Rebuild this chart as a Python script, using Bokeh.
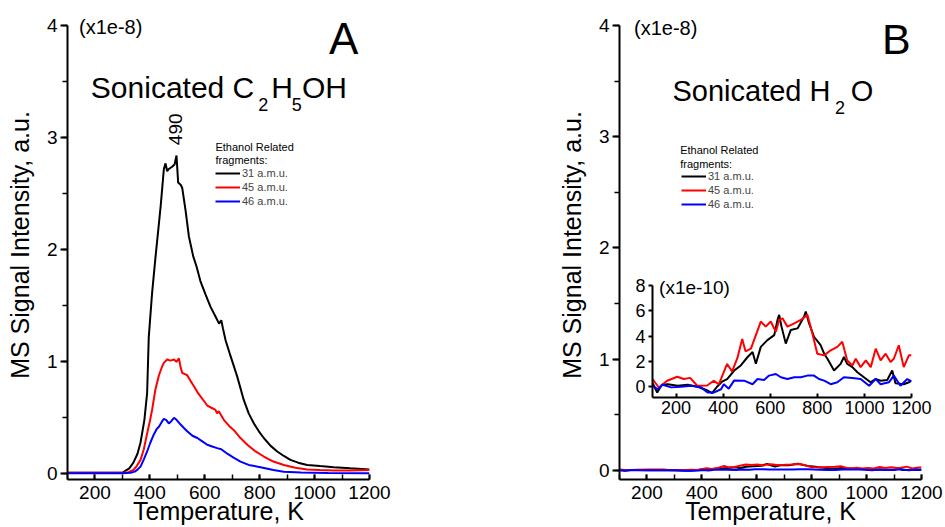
import math
import numpy as np
from bokeh.plotting import figure
from bokeh.layouts import row, column
from bokeh.models import Range1d, SingleIntervalTicker, Label, Legend, LegendItem
from bokeh.embed import file_html
from bokeh.resources import INLINE

# ---------------- data (panel A, units of 1e-8) ----------------
series_labels = ["31 a.m.u.", "45 a.m.u.", "46 a.m.u."]
series_colors = ["#000000", "#ff0000", "#0000ff"]

temp_a31 = [100, 200, 300, 312, 325, 340, 355, 366, 380, 390, 396, 408, 420, 439, 451, 457,
            463, 469, 481, 490, 497, 503, 512, 518, 530, 542, 558, 570, 584, 603, 621, 640,
            652, 660, 666, 676, 694, 718, 742, 760, 779, 797, 815, 840, 864, 888, 912, 940,
            973, 1020, 1070, 1130, 1200]
sig_a31 = [0.01, 0.01, 0.01, 0.03, 0.05, 0.10, 0.18, 0.28, 0.48, 0.72, 1.22, 1.61, 1.92, 2.38,
           2.72, 2.77, 2.70, 2.72, 2.74, 2.76, 2.84, 2.60, 2.58, 2.55, 2.35, 2.12, 1.94, 1.85,
           1.72, 1.60, 1.49, 1.40, 1.34, 1.37, 1.30, 1.19, 1.05, 0.87, 0.66, 0.54, 0.45, 0.38,
           0.32, 0.25, 0.20, 0.16, 0.125, 0.10, 0.08, 0.07, 0.06, 0.05, 0.04]

temp_a45 = [100, 200, 300, 322, 340, 352, 366, 378, 390, 400, 408, 420, 433, 445, 451, 463,
            475, 488, 497, 506, 512, 518, 528, 536, 548, 561, 573, 585, 597, 609, 624, 639,
            645, 651, 660, 670, 688, 706, 730, 755, 785, 815, 850, 888, 930, 973, 1020, 1070,
            1130, 1200]
sig_a45 = [0.01, 0.01, 0.01, 0.015, 0.035, 0.07, 0.125, 0.22, 0.36, 0.47, 0.57, 0.75, 0.88,
           0.96, 0.99, 1.02, 1.01, 1.02, 1.00, 1.03, 0.95, 0.90, 0.89, 0.88, 0.83, 0.78, 0.73,
           0.69, 0.65, 0.61, 0.59, 0.57, 0.54, 0.56, 0.52, 0.48, 0.43, 0.39, 0.32, 0.26, 0.20,
           0.155, 0.11, 0.08, 0.055, 0.04, 0.035, 0.03, 0.03, 0.035]

temp_a46 = [100, 200, 300, 330, 345, 356, 366, 378, 390, 402, 414, 425, 433, 445, 451, 460,
            469, 478, 488, 498, 512, 524, 536, 555, 573, 591, 609, 627, 645, 660, 682, 705,
            730, 760, 803, 850, 888, 950, 1050, 1200]
sig_a46 = [0.005, 0.005, 0.005, 0.01, 0.02, 0.04, 0.065, 0.13, 0.2, 0.28, 0.35, 0.40, 0.42,
           0.47, 0.49, 0.48, 0.45, 0.47, 0.50, 0.48, 0.44, 0.41, 0.38, 0.34, 0.32, 0.29, 0.26,
           0.245, 0.23, 0.22, 0.18, 0.145, 0.11, 0.08, 0.06, 0.035, 0.02, 0.012, 0.008, 0.006]

# ---------------- data (panel B, inset units of 1e-10) ----------------
temp_b31 = [100, 120, 140, 165, 207, 249, 292, 334, 353, 374, 395, 417, 447, 475, 504, 525,
            539, 560, 588, 617, 631, 638, 648, 666, 687, 716, 744, 751, 765, 786, 814, 829,
            843, 871, 899, 913, 927, 949, 970, 998, 1026, 1047, 1069, 1097, 1118, 1132, 1167,
            1189, 1200]
sig_b31 = [0.3, -0.45, 0.15, 0.2, 0.08, 0.16, 0.0, -0.3, -0.5, 0.0, 0.4, 0.6, 1.28, 1.68, 2.35,
           2.75, 1.81, 3.15, 3.68, 4.08, 5.28, 5.68, 4.75, 3.41, 4.48, 4.61, 5.55, 5.95, 5.0,
           3.95, 3.28, 2.61, 2.21, 1.28, 1.81, 2.35, 1.81, 1.55, 1.15, 0.75, 0.35, 0.61, 0.48,
           0.53, 1.28, 0.27, 0.2, 0.35, 0.48]

temp_b45 = [100, 127, 162, 205, 233, 260, 290, 332, 360, 382, 417, 438, 461, 481, 495, 518,
            539, 560, 581, 602, 624, 638, 652, 673, 702, 730, 758, 779, 800, 829, 857, 885,
            906, 927, 949, 963, 984, 1006, 1027, 1048, 1069, 1090, 1111, 1125, 1146, 1167,
            1189, 1200]
sig_b45 = [0.61, -0.06, 0.47, 0.79, 0.61, 0.7, 0.08, 0.1, 0.47, 0.2, 1.8, 1.2, 2.3, 3.78, 2.8,
           3.01, 4.08, 5.15, 4.75, 5.15, 4.35, 5.28, 5.41, 4.75, 5.01, 5.28, 5.68, 4.21, 2.61,
           2.48, 2.88, 3.15, 3.55, 2.08, 1.68, 2.21, 1.55, 2.08, 1.55, 3.01, 2.08, 2.61, 1.95,
           2.21, 3.28, 1.55, 2.48, 2.48]

temp_b46 = [100, 122, 143, 179, 221, 264, 306, 334, 362, 391, 403, 424, 447, 489, 525, 546,
            574, 595, 624, 645, 673, 702, 730, 758, 786, 807, 829, 857, 885, 913, 949, 984,
            1020, 1048, 1069, 1104, 1125, 1153, 1182, 1200]
sig_b46 = [0.1, -0.2, 0.16, -0.05, 0.0, 0.08, -0.05, -0.45, -0.45, -0.2, 0.2, -0.15, 0.5, 0.48,
           0.2, 0.61, 0.53, 0.88, 1.01, 0.75, 0.61, 0.75, 0.75, 0.88, 0.88, 0.61, 0.48, 0.2,
           0.35, 0.75, 0.69, 0.61, 0.08, 0.61, 0.2, 0.35, 0.88, 0.08, 0.61, 0.43]

x_tick_interval = 200
FONT = "Liberation Sans"


def base_fig(width, height, yr, ybounds, mbl, mbr, mbt, mbb, **kw):
    p = figure(width=width, height=height, x_range=Range1d(100, 1200), y_range=Range1d(*yr),
               output_backend="svg", toolbar_location=None,
               min_border_left=mbl, min_border_right=mbr, min_border_top=mbt,
               min_border_bottom=mbb, **kw)
    p.xgrid.visible = False
    p.ygrid.visible = False
    p.outline_line_color = None
    for ax in (p.xaxis[0], p.yaxis[0]):
        ax.axis_line_width = 2
        ax.axis_line_color = "black"
        ax.major_tick_line_width = 2
        ax.minor_tick_line_width = 1.5
        ax.major_tick_line_color = "black"
        ax.minor_tick_line_color = "black"
        ax.major_label_text_font = FONT
        ax.major_label_text_color = "black"
        ax.axis_label_text_font = FONT
        ax.axis_label_text_font_style = "normal"
        ax.axis_label_text_color = "black"
    p.yaxis[0].bounds = ybounds
    return p


def style_main(p):
    xa, ya = p.xaxis[0], p.yaxis[0]
    xa.ticker = SingleIntervalTicker(interval=x_tick_interval, num_minor_ticks=2)
    xa.major_tick_in, xa.major_tick_out = 5, 0
    xa.minor_tick_in, xa.minor_tick_out = 5, 0
    xa.major_label_standoff = 6
    xa.major_label_text_font_size = "19px"
    xa.axis_label = "Temperature, K"
    xa.axis_label_text_font_size = "25px"
    xa.axis_label_standoff = -5
    ya.ticker = SingleIntervalTicker(interval=1, num_minor_ticks=2)
    ya.major_tick_in, ya.major_tick_out = 0, 7
    ya.minor_tick_in, ya.minor_tick_out = 0, 5
    ya.major_label_standoff = 3
    ya.major_label_text_font_size = "19px"
    ya.axis_label = "MS Signal Intensity, a.u."
    ya.axis_label_text_font_size = "25px"
    ya.axis_label_standoff = 10


def lab(p, x, y, text, size, align="left", angle=0.0):
    p.add_layout(Label(x=x, y=y, text=text, text_font=FONT, text_font_size=size,
                       text_align=align, text_baseline="middle", angle=angle,
                       text_color="black"))


def add_legend(p, renderers, loc):
    items = [LegendItem(label=l, renderers=[r]) for l, r in zip(series_labels, renderers)]
    leg = Legend(items=items, location=loc, label_text_font=FONT, label_text_font_size="11px",
                 glyph_width=25, glyph_height=14, label_height=14, label_standoff=2,
                 spacing=0, padding=0, margin=0, border_line_color=None,
                 background_fill_alpha=0)
    p.add_layout(leg)


# ---------------- panel A ----------------
pA = base_fig(472, 527, (-0.05, 4.1335), (-0.05, 4), 67, 103, 10, 47)
style_main(pA)
rA = []
for t, s, c in zip([temp_a31, temp_a45, temp_a46], [sig_a31, sig_a45, sig_a46], series_colors):
    rA.append(pA.line(t, s, line_color=c, line_width=2))
add_legend(pA, rA, (148, 271))
lab(pA, 142, 3.985, "(x1e-8)", "20px")
lab(pA, 1106, 3.883, "A", "44px", align="center")
lab(pA, 185, 3.445, "Sonicated C", "30px")
lab(pA, 795, 3.299, "2", "18px")
lab(pA, 842, 3.445, "H", "30px")
lab(pA, 917, 3.299, "5", "18px")
lab(pA, 954, 3.445, "OH", "30px")
lab(pA, 493, 3.074, "490", "19px", align="center", angle=math.pi / 2)
lab(pA, 639, 2.915, "Ethanol Related", "11px")
lab(pA, 639, 2.803, "fragments:", "11px")

# ---------------- panel B ----------------
pB = base_fig(473, 527, (-0.083, 4.134), (-0.083, 4), 147, 24, 10, 46)
style_main(pB)
rB = []
for t, s, c in zip([temp_b31, temp_b45, temp_b46], [sig_b31, sig_b45, sig_b46], series_colors):
    rB.append(pB.line(t, np.array(s) / 100.0, line_color=c, line_width=2))
add_legend(pB, rB, (62, 268))
lab(pB, 153, 3.978, "(x1e-8)", "20px")
lab(pB, 1108, 3.876, "B", "43px", align="center")
lab(pB, 293, 3.408, "Sonicated H", "29px")
lab(pB, 885, 3.261, "2", "18px")
lab(pB, 942, 3.408, "O", "29px")
lab(pB, 321, 2.876, "Ethanol Related", "11px")
lab(pB, 321, 2.757, "fragments:", "11px")

# ---------------- inset ----------------
pI = base_fig(313, 155, (-0.85, 8.79), (-0.85, 8), 30, 24, 3, 30,
              background_fill_alpha=0, border_fill_alpha=0, margin=(-255, 0, 0, 622))
xi, yi = pI.xaxis[0], pI.yaxis[0]
xi.ticker = SingleIntervalTicker(interval=x_tick_interval, num_minor_ticks=0)
xi.major_tick_in, xi.major_tick_out = 4, 0
xi.major_label_standoff = 3
xi.major_label_text_font_size = "18px"
yi.ticker = SingleIntervalTicker(interval=2, num_minor_ticks=0)
yi.major_tick_in, yi.major_tick_out = 0, 4
yi.major_label_standoff = 3
yi.major_label_text_font_size = "18px"
for t, s, c in zip([temp_b31, temp_b45, temp_b46], [sig_b31, sig_b45, sig_b46], series_colors):
    pI.line(t, s, line_color=c, line_width=2)
lab(pI, 128, 7.87, "(x1e-10)", "19px")

layout = column(row(pA, pB), pI)
open("out.html", "w").write(file_html(layout, INLINE))
